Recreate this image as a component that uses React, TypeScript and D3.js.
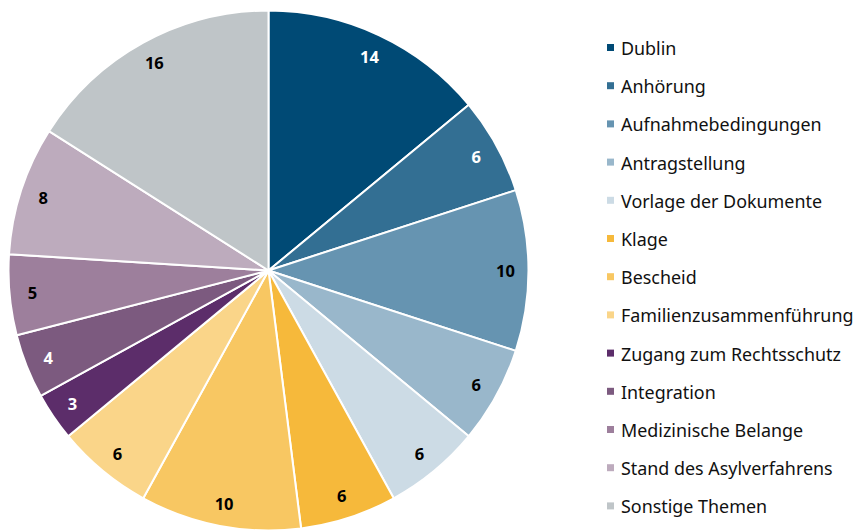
import React from "react";
import * as d3 from "d3";

const categories = [
  "Dublin",
  "Anhörung",
  "Aufnahmebedingungen",
  "Antragstellung",
  "Vorlage der Dokumente",
  "Klage",
  "Bescheid",
  "Familienzusammenführung",
  "Zugang zum Rechtsschutz",
  "Integration",
  "Medizinische Belange",
  "Stand des Asylverfahrens",
  "Sonstige Themen",
];
const values = [14, 6, 10, 6, 6, 6, 10, 6, 3, 4, 5, 8, 16];
const colors = [
  "#004a75",
  "#336f93",
  "#6694b1",
  "#99b7cb",
  "#ccdbe5",
  "#f6b93b",
  "#f8c762",
  "#fad589",
  "#5c2d6a",
  "#7c5a7f",
  "#9d7f9c",
  "#bdabbd",
  "#bfc5c8",
];
const labelColors = [
  "#fff", "#fff", "#000", "#000", "#000", "#000", "#000", "#000",
  "#fff", "#fff", "#000", "#000", "#000",
];

const W = 857;
const H = 532;
const cx = 268.5;
const cy = 270.5;
const R = 260;

export default function App() {
  const pie = d3.pie<number>().sort(null).value((d) => d);
  const arcs = pie(values);
  const arc = d3.arc<d3.PieArcDatum<number>>().innerRadius(0).outerRadius(R);
  const labelArc = d3
    .arc<d3.PieArcDatum<number>>()
    .innerRadius(R - 23)
    .outerRadius(R - 23);
  const font = "'Noto Sans', 'Open Sans', sans-serif";
  return (
    <svg
      width={W}
      height={H}
      style={{ position: "absolute", left: 0, top: 0 }}
      fontFamily={font}
    >
      <g transform={`translate(${cx},${cy})`}>
        {arcs.map((a, i) => (
          <path
            key={i}
            d={arc(a) || ""}
            fill={colors[i]}
            stroke="#fff"
            strokeWidth={2}
            strokeLinejoin="round"
          />
        ))}
        {arcs.map((a, i) => {
          const [x, y] = labelArc.centroid(a);
          return (
            <text
              key={i}
              x={x}
              y={y}
              textAnchor="middle"
              dominantBaseline="central"
              fontSize={16.5}
              fontWeight="bold"
              fill={labelColors[i]}
            >
              {values[i]}
            </text>
          );
        })}
      </g>
      <g>
        {categories.map((c, i) => {
          const y = 48 + i * 38.2;
          return (
            <g key={c}>
              <rect x={607} y={y - 4} width={7} height={7} fill={colors[i]} />
              <text
                x={621}
                y={y}
                dominantBaseline="central"
                fontSize={17.9}
                fill="#111"
              >
                {c}
              </text>
            </g>
          );
        })}
      </g>
    </svg>
  );
}
